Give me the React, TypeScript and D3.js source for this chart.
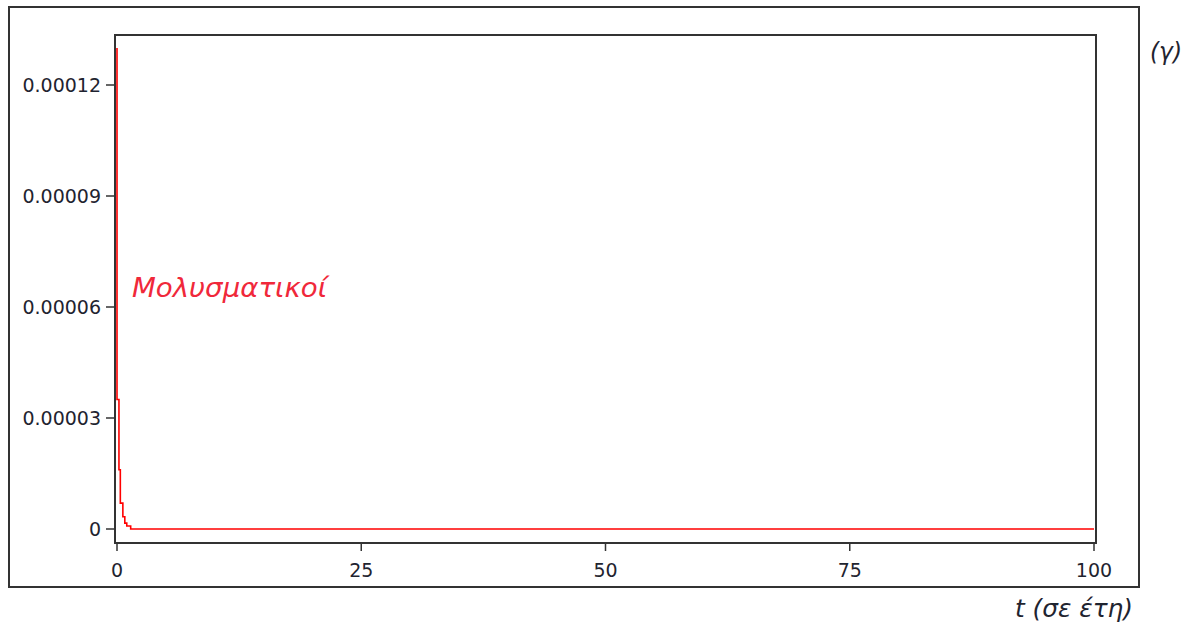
import React from "react";
import * as d3 from "d3";

const timeYears = [0, 0.2, 0.34, 0.6, 0.8, 1.0, 1.4, 100];
const infectious = [0.00013, 0.000035, 0.000016, 0.000007, 0.0000033, 0.0000016, 0.0000008, 0];
const xTicks = [0, 25, 50, 75, 100];
const yTicks = [0, 0.00003, 0.00006, 0.00009, 0.00012];
const yTickLabels = ["0", "0.00003", "0.00006", "0.00009", "0.00012"];
const seriesLabel = "Μολυσματικοί";
const xLabel = "t (σε έτη)";
const yLabel = "(γ)";

export default function App() {
  const W = 1193, H = 628;
  const plot = { left: 115, right: 1096, top: 35, bottom: 543 };
  const x = d3.scaleLinear().domain([0, 100]).range([117, 1094]);
  const y = d3.scaleLinear().domain([0, 0.00012]).range([529, 85]);
  const pts = timeYears.map((t, i) => [t, infectious[i]] as [number, number]);
  const line = d3
    .line<[number, number]>()
    .x((d) => x(d[0]))
    .y((d) => y(d[1]))
    .curve(d3.curveStepBefore);
  const tickFont = "'DejaVu Sans', Verdana, sans-serif";
  const labelFont = "'DejaVu Sans', 'Open Sans', sans-serif";
  const axisColor = "#333";
  const textColor = "#1f2430";
  return (
    <svg
      width={W}
      height={H}
      style={{ position: "absolute", left: 0, top: 0, background: "#fff" }}
    >
      <rect x={9} y={7} width={1130} height={580} fill="#fff" stroke={axisColor} strokeWidth={2} />
      <rect
        x={plot.left}
        y={plot.top}
        width={plot.right - plot.left}
        height={plot.bottom - plot.top}
        fill="#fff"
        stroke={axisColor}
        strokeWidth={2}
      />
      {yTicks.map((v, i) => (
        <g key={"y" + i}>
          <line x1={106} x2={plot.left} y1={y(v)} y2={y(v)} stroke={axisColor} strokeWidth={1.5} />
          <text
            x={101}
            y={y(v)}
            dy="0.36em"
            textAnchor="end"
            fontFamily={tickFont}
            fontSize={19}
            fill={textColor}
          >
            {yTickLabels[i]}
          </text>
        </g>
      ))}
      {xTicks.map((v, i) => (
        <g key={"x" + i}>
          <line x1={x(v)} x2={x(v)} y1={plot.bottom} y2={551} stroke={axisColor} strokeWidth={1.5} />
          <text
            x={x(v)}
            y={577}
            textAnchor="middle"
            fontFamily={tickFont}
            fontSize={19}
            fill={textColor}
          >
            {v}
          </text>
        </g>
      ))}
      <path d={line(pts) || ""} fill="none" stroke="#ff0000" strokeWidth={1.6} />
      <text
        x={132}
        y={297}
        fontFamily={labelFont}
        fontStyle="italic"
        fontSize={27}
        fill="#f0283a"
        textLength={195}
        lengthAdjust="spacingAndGlyphs"
      >
        {seriesLabel}
      </text>
      <text
        x={1150}
        y={60}
        fontFamily={labelFont}
        fontStyle="italic"
        fontSize={24}
        fill={textColor}
        textLength={32}
        lengthAdjust="spacingAndGlyphs"
      >
        {yLabel}
      </text>
      <text
        x={1015}
        y={617}
        fontFamily={labelFont}
        fontStyle="italic"
        fontSize={24}
        fill={textColor}
        textLength={118}
        lengthAdjust="spacingAndGlyphs"
      >
        {xLabel}
      </text>
    </svg>
  );
}
